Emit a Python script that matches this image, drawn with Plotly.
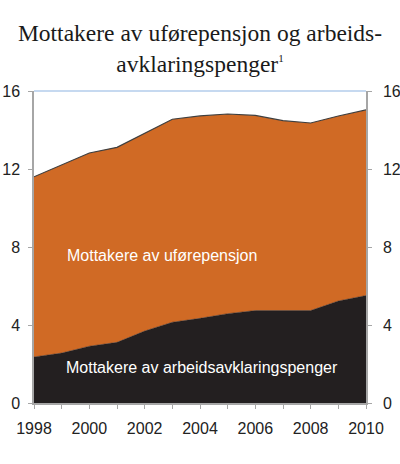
import plotly.graph_objects as go

years = list(range(1998, 2011))
total = [11.6, 12.2, 12.82, 13.11, 13.83, 14.55, 14.72, 14.82, 14.75, 14.48, 14.36, 14.72, 15.03]
arbeidsavklaring = [2.36, 2.56, 2.91, 3.11, 3.69, 4.14, 4.34, 4.58, 4.74, 4.74, 4.74, 5.23, 5.51]
uforepensjon = [round(t - a, 2) for t, a in zip(total, arbeidsavklaring)]
label_years = [y for y in years if y % 2 == 0]
y_ticks = [0, 4, 8, 12, 16]

W, H = 400, 464
fig = go.Figure()
fig.add_trace(go.Scatter(
    x=years, y=arbeidsavklaring, stackgroup="one", mode="lines",
    line=dict(color="#231F20", width=0.5), fillcolor="#231F20",
    name="Mottakere av arbeidsavklaringspenger", hoverinfo="x+y"))
fig.add_trace(go.Scatter(
    x=years, y=uforepensjon, stackgroup="one", mode="lines",
    line=dict(color="#3F3F3F", width=1.2), fillcolor="#D06A25",
    name="Mottakere av uførepensjon", hoverinfo="x+y"))
fig.add_trace(go.Scatter(x=[years[0]], y=[0], yaxis="y2", mode="markers",
                         marker=dict(opacity=0), showlegend=False, hoverinfo="skip"))

tickfont = dict(family="Liberation Sans, Arial", size=16, color="#222222")
axis_common = dict(ticks="outside", ticklen=4, tickcolor="#A6A6A6", showline=True,
                   linecolor="#A6A6A6", linewidth=1.5, showgrid=False, zeroline=False,
                   tickfont=tickfont)
fig.update_layout(
    width=W, height=H,
    margin=dict(l=34, r=34, t=91, b=61, autoexpand=False),
    paper_bgcolor="white", plot_bgcolor="white",
    showlegend=False,
    title=dict(
        text="Mottakere av uførepensjon og arbeids-<br>avklaringspenger<sup><span style='font-size:11px'>1</span></sup>",
        x=0.5, xanchor="center", xref="paper", y=1 - 41 / H, yanchor="top",
        font=dict(family="Liberation Serif, Times New Roman", size=23.5, color="#1A1A1A")),
    xaxis=dict(range=[1998, 2010], tickvals=label_years,
               minor=dict(tickvals=years, ticks="outside", ticklen=4, tickcolor="#A6A6A6",
                          showgrid=False),
               ticklabelstandoff=6, **axis_common),
    yaxis=dict(range=[0, 16], tickvals=y_ticks, ticklabelstandoff=5, **axis_common),
    yaxis2=dict(range=[0, 16], tickvals=y_ticks, overlaying="y", side="right",
                ticklabelstandoff=8, **axis_common),
    shapes=[dict(type="line", xref="paper", yref="paper", x0=0, x1=1, y0=1, y1=1,
                 line=dict(color="#8DB3E2", width=1.2))],
    annotations=[
        dict(text="Mottakere av uførepensjon", xref="paper", yref="paper",
             x=0.386, y=0.474, showarrow=False,
             font=dict(family="Liberation Sans, Arial", size=16, color="white")),
        dict(text="Mottakere av arbeidsavklaringspenger", xref="paper", yref="paper",
             x=0.506, y=0.08, showarrow=False,
             font=dict(family="Liberation Sans, Arial", size=16, color="white")),
    ],
)

fig.write_html("out.html", config={"displayModeBar": False},
               post_script="document.body.style.margin='0';document.body.style.overflow='hidden';")
